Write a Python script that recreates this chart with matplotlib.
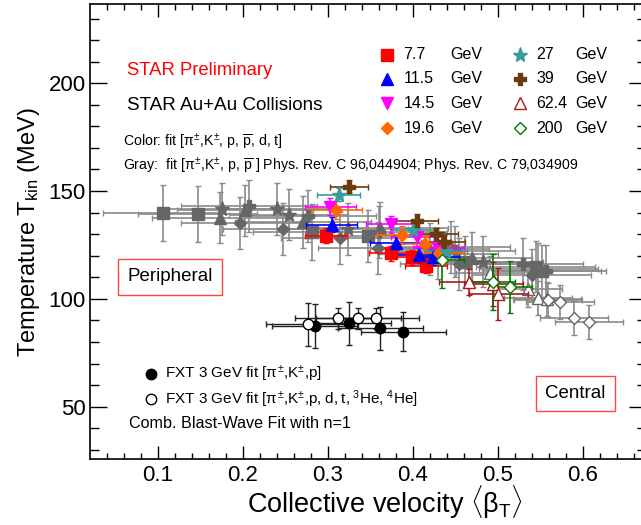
import matplotlib
matplotlib.use("Agg")
import matplotlib.pyplot as plt
from matplotlib.ticker import MultipleLocator

plt.rcParams['font.family'] = ['Liberation Sans', 'DejaVu Sans']
plt.rcParams['mathtext.fontset'] = 'custom'
plt.rcParams['mathtext.rm'] = 'Liberation Sans'
plt.rcParams['mathtext.it'] = 'Liberation Sans'
plt.rcParams['mathtext.bf'] = 'Liberation Sans:bold'

# ---- colored points: new fits [pi, K, p, pbar, d, t] ----
energies = ["7.7", "11.5", "14.5", "19.6", "27", "39", "62.4", "200"]
colors = ["#ff0000", "#0000ff", "#ff00ff", "#ff6600", "#3a9c9c", "#6b3a0e", "#b01818", "#007a00"]
markers = ["s", "^", "v", "D", "*", "P", "^", "D"]
filled = [True, True, True, True, True, True, False, False]

beta = [
    [0.298, 0.374, 0.399, 0.416],
    [0.305, 0.380, 0.408, 0.424],
    [0.303, 0.375, 0.405, 0.430],
    [0.310, 0.388, 0.414, 0.431],
    [0.313, 0.401, 0.439],
    [0.325, 0.405, 0.428, 0.437],
    [0.466, 0.495, 0.501],
    [0.435, 0.495, 0.515],
]
tkin = [
    [129.2, 121.2, 119.3, 115.3],
    [134.3, 126.1, 120.2, 119.3],
    [142.8, 134.6, 128.6, 123.5],
    [141.2, 129.6, 125.3, 121.2],
    [148.2, 132.0, 122.4],
    [152.0, 136.3, 130.1, 126.5],
    [108.0, 106.9, 102.3],
    [118.0, 108.0, 105.6],
]
beta_err = [
    [0.025, 0.025, 0.025, 0.025],
    [0.030, 0.030, 0.030, 0.030],
    [0.030, 0.030, 0.030, 0.030],
    [0.030, 0.030, 0.030, 0.030],
    [0.025, 0.025, 0.025],
    [0.022, 0.025, 0.025, 0.025],
    [0.035, 0.035, 0.035],
    [0.025, 0.025, 0.025],
]
tkin_err = [
    [3.5, 3.5, 3.5, 3.5],
    [3.5, 3.5, 3.5, 3.5],
    [4.0, 4.0, 4.0, 4.0],
    [4.0, 4.0, 4.0, 4.0],
    [3.0, 3.0, 3.0],
    [3.0, 3.0, 3.0, 3.0],
    [6.0, 10.0, 12.0],
    [13.0, 13.0, 12.0],
]

# ---- gray points: PRC 96,044904 and PRC 79,034909 ----
gray_markers = ["s", "^", "D", "*", "P", "^", "D"]
gray_filled = [True, True, True, True, True, False, False]
gray_beta = [
    [0.106, 0.147, 0.282, 0.348, 0.430, 0.462, 0.545],
    [0.173, 0.203, 0.271, 0.362, 0.420, 0.470, 0.552],
    [0.197, 0.247, 0.315, 0.359, 0.455, 0.540],
    [0.176, 0.241, 0.254, 0.324, 0.445, 0.483, 0.548],
    [0.208, 0.277, 0.360, 0.450, 0.530, 0.557],
    [0.491, 0.536, 0.548, 0.558],
    [0.559, 0.573, 0.590, 0.608],
]
gray_tkin = [
    [140.0, 139.2, 131.2, 129.2, 121.0, 117.0, 115.0],
    [137.7, 141.0, 135.8, 132.7, 123.0, 119.0, 113.0],
    [135.1, 132.3, 128.4, 123.5, 116.0, 111.0],
    [141.7, 141.8, 139.1, 132.4, 124.0, 117.3, 114.0],
    [143.0, 138.5, 131.0, 122.0, 116.0, 113.0],
    [112.0, 104.4, 100.3, 100.0],
    [99.5, 98.6, 91.1, 89.2],
]
gray_beta_err = [
    [0.07, 0.07, 0.07, 0.07, 0.07, 0.07, 0.07],
    [0.08, 0.08, 0.08, 0.08, 0.07, 0.07, 0.07],
    [0.07, 0.07, 0.07, 0.07, 0.07, 0.07],
    [0.07, 0.07, 0.07, 0.07, 0.07, 0.07, 0.07],
    [0.08, 0.08, 0.08, 0.07, 0.07, 0.07],
    [0.04, 0.04, 0.04, 0.04],
    [0.04, 0.04, 0.04, 0.04],
]
gray_tkin_err = [
    [13, 13, 13, 12, 12, 12, 12],
    [12, 12, 12, 12, 12, 12, 12],
    [12, 12, 12, 12, 12, 12],
    [12, 12, 12, 12, 12, 12, 12],
    [12, 12, 12, 12, 12, 12],
    [8, 8, 8, 8],
    [8, 8, 8, 8],
]

# ---- FXT 3 GeV ----
fxt_beta = [0.285, 0.325, 0.362, 0.389]
fxt_tkin = [87.4, 88.7, 86.4, 84.8]
fxt_beta_err = [0.05, 0.05, 0.05, 0.05]
fxt_tkin_err = [10, 10, 10, 9]
fxt2_beta = [0.277, 0.312, 0.336, 0.357]
fxt2_tkin = [88.2, 91.0, 91.0, 91.0]
fxt2_beta_err = [0.05, 0.05, 0.05, 0.05]
fxt2_tkin_err = [10, 5, 5, 5]

fig = plt.figure(figsize=(6.41, 5.25), dpi=100)
ax = fig.add_axes([0.1404, 0.1251, 0.868, 0.8667])


def msize(m):
    if m == "*":
        return 11
    if m == "D":
        return 6
    return 8


gray_c = "#666666"
gray_e = "#8a8a8a"
for m, f, bx, by, ex, ey in zip(gray_markers, gray_filled, gray_beta, gray_tkin,
                                gray_beta_err, gray_tkin_err):
    ax.errorbar(bx, by, xerr=ex, yerr=ey, fmt=m, ms=msize(m),
                mfc=gray_c if f else "white", mec=gray_c, ecolor=gray_e,
                elinewidth=1.2, capsize=2.5, zorder=2)

for m, f, c, bx, by, ex, ey in zip(markers, filled, colors, beta, tkin,
                                   beta_err, tkin_err):
    ax.errorbar(bx, by, xerr=ex, yerr=ey, fmt=m, ms=msize(m),
                mfc=c if f else "white", mec=c, ecolor=c,
                elinewidth=1.2, capsize=2, zorder=3)

ax.errorbar(fxt_beta, fxt_tkin, xerr=fxt_beta_err, yerr=fxt_tkin_err, fmt="o",
            ms=7.5, mfc="black", mec="black", ecolor="#222222", elinewidth=1,
            capsize=2, zorder=4)
ax.errorbar(fxt2_beta, fxt2_tkin, xerr=fxt2_beta_err, yerr=fxt2_tkin_err, fmt="o",
            ms=7.5, mfc="white", mec="black", ecolor="#222222", elinewidth=1,
            capsize=2, zorder=4)

ax.set_xlim(0.0204, 0.675)
ax.set_ylim(25.6, 236.6)
ax.xaxis.set_major_locator(MultipleLocator(0.1))
ax.xaxis.set_minor_locator(MultipleLocator(0.02))
ax.yaxis.set_major_locator(MultipleLocator(50))
ax.yaxis.set_minor_locator(MultipleLocator(10))
ax.tick_params(axis="x", which="major", direction="in", length=9.5, width=1,
               top=True, labelsize=16, pad=4)
ax.tick_params(axis="x", which="minor", direction="in", length=4.5, width=1, top=True)
ax.tick_params(axis="y", which="major", direction="in", length=12.5, width=1,
               right=True, labelsize=16, pad=3)
ax.tick_params(axis="y", which="minor", direction="in", length=6.5, width=1, right=True)
ax.xaxis.set_major_formatter(lambda v, p: f"{v:.1f}")
for s in ax.spines.values():
    s.set_linewidth(1.2)

ax.set_xlabel(r"Collective velocity $\langle\beta_{T}\rangle$", fontsize=19.5)
ax.xaxis.set_label_coords(0.53, -0.054, transform=ax.transAxes)
ax.xaxis.label.set_va("top")
ax.set_ylabel(r"Temperature T$_{\mathrm{kin}}$ (MeV)", fontsize=17, labelpad=5)

ax.text(0.0639, 205.7, "STAR Preliminary", color="red", fontsize=13.3, va="center")
ax.text(0.0639, 189.5, "STAR Au+Au Collisions", color="black", fontsize=13.6, va="center")
ax.text(0.0592, 172.3, r"Color: fit [$\pi^{\pm}$,K$^{\pm}$, p, $\overline{\mathrm{p}}$, d, t]",
        fontsize=10.2, va="center")
ax.text(0.0592, 161.6, r"Gray:  fit [$\pi^{\pm}$,K$^{\pm}$, p, $\overline{\mathrm{p}}$ ] "
        "Phys. Rev. C 96,044904; Phys. Rev. C 79,034909", fontsize=10.2, va="center")

# colored energy legend
leg_x = [0.370, 0.5265]
leg_y = [213.1, 202.0, 190.8, 179.2]
for i, (e, c, m, f) in enumerate(zip(energies, colors, markers, filled)):
    col, row = divmod(i, 4)
    ax.plot(leg_x[col], leg_y[row], marker=m, ms=msize(m), color=c,
            mfc=c if f else "white", mec=c, ls="none")
    ax.text(leg_x[col] + 0.019, leg_y[row], e, fontsize=11.5, va="center")
    ax.text(leg_x[col] + 0.074 - 0.009 * col, leg_y[row], "GeV", fontsize=11.5, va="center")

box = dict(boxstyle="square,pad=0.5", fc="white", ec="#ff4444", lw=1)
ax.text(0.1145, 110.3, "Peripheral", fontsize=13.5, ha="center", va="center", bbox=box)
ax.text(0.5915, 56.1, "Central", fontsize=13.5, ha="center", va="center", bbox=box)

ax.plot(0.092, 65.2, "o", ms=7.5, color="black")
ax.text(0.1086, 65.2, r"FXT 3 GeV fit [$\pi^{\pm}$,K$^{\pm}$,p]", fontsize=11, va="center")
ax.plot(0.092, 53.6, "o", ms=7.5, mfc="white", mec="black")
ax.text(0.1086, 53.6,
        r"FXT 3 GeV fit [$\pi^{\pm}$,K$^{\pm}$,p,$\;$d,$\;$t,$\;^{3}$He,$\;^{4}$He]",
        fontsize=11, va="center")
ax.text(0.066, 42.0, "Comb. Blast-Wave Fit with n=1", fontsize=11.6, va="center")

fig.savefig("out.png", dpi=100)
